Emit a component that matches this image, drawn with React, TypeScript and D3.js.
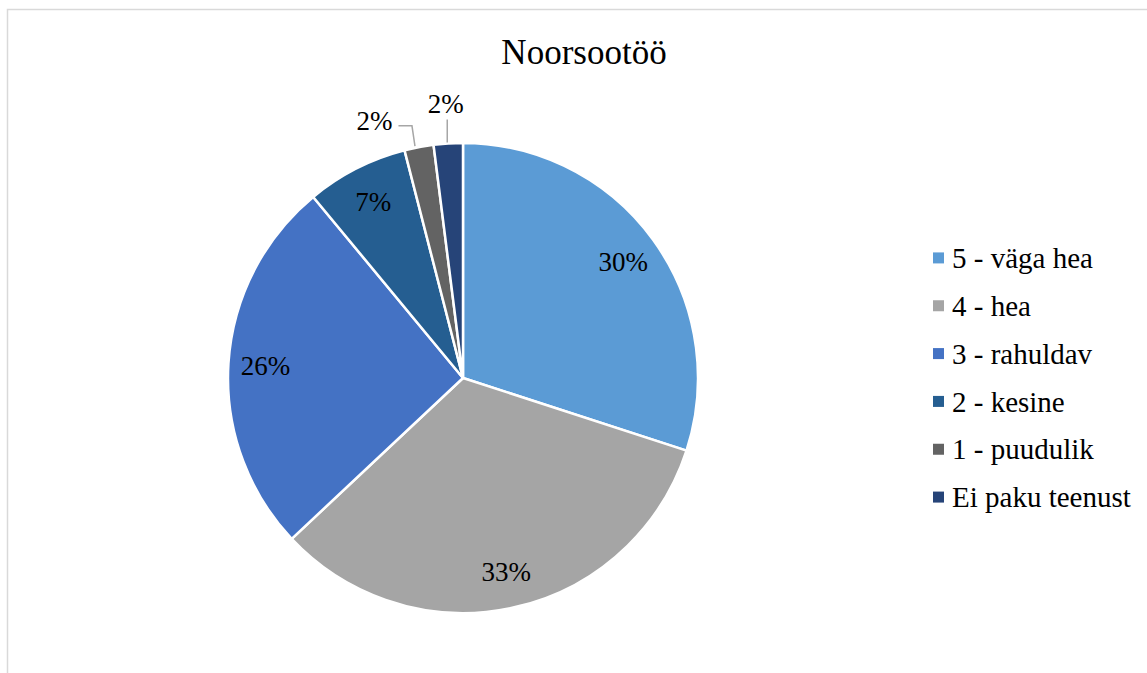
import React from "react";
import * as d3 from "d3";

const categories = ["5 - väga hea", "4 - hea", "3 - rahuldav", "2 - kesine", "1 - puudulik", "Ei paku teenust"];
const values = [30, 33, 26, 7, 2, 2];
const colors = ["#5B9BD5", "#A5A5A5", "#4472C4", "#255E91", "#636363", "#264478"];
const title = "Noorsootöö";

const W = 1147;
const H = 673;
const cx = 463;
const cy = 378;
const R = 235;
const FONT = "'Liberation Serif', 'Times New Roman', serif";

export default function App() {
  const pie = d3.pie<number>().value((d) => d).sort(null);
  const arcs = pie(values);
  const arc = d3.arc<d3.PieArcDatum<number>>().innerRadius(0).outerRadius(R);
  const labelArc = d3.arc<d3.PieArcDatum<number>>().innerRadius(198).outerRadius(198);
  const outerArc = d3.arc<d3.PieArcDatum<number>>().innerRadius(275).outerRadius(275);
  const edgeArc = d3.arc<d3.PieArcDatum<number>>().innerRadius(R).outerRadius(R);

  const legendY = d3.scaleBand<string>().domain(categories).range([234, 521]);

  return (
    <svg width={W} height={H} style={{ position: "absolute", left: 0, top: 0, background: "#fff" }} fontFamily={FONT}>
      <rect x={7.5} y={9.5} width={W + 10} height={H + 10} fill="#fff" stroke="#D9D9D9" strokeWidth={1.5} />
      <text x={584} y={64} textAnchor="middle" fontSize={35} fill="#000">{title}</text>
      <g transform={`translate(${cx},${cy})`}>
        {arcs.map((a, i) => (
          <path key={i} d={arc(a) || ""} fill={colors[i]} stroke="#fff" strokeWidth={2.5} strokeLinejoin="round" />
        ))}
        {arcs.map((a, i) => {
          const label = `${values[i]}%`;
          if (values[i] >= 5) {
            const [x, y] = labelArc.centroid(a);
            return (
              <text key={"l" + i} x={x} y={y} dy="0.35em" textAnchor="middle" fontSize={27} fill="#000">{label}</text>
            );
          }
          const [ex, ey] = edgeArc.centroid(a);
          const [ox, oy] = outerArc.centroid(a);
          const shifted = i === 4;
          const lx = shifted ? ox - 37 : ox;
          const ly = shifted ? oy + 13 : oy;
          const path = shifted
            ? `M${ex - 4},${ey - 1} L${ex - 7},${ly + 5} L${lx + 24},${ly + 5}`
            : `M${ex - 1},${ey - 1} L${ex - 1},${ly + 16}`;
          return (
            <g key={"l" + i}>
              <path d={path} fill="none" stroke="#A6A6A6" strokeWidth={1.5} />
              <text x={lx} y={ly} dy="0.35em" textAnchor="middle" fontSize={27} fill="#000">{label}</text>
            </g>
          );
        })}
      </g>
      {categories.map((c, i) => {
        const y = (legendY(c) || 0) + legendY.bandwidth() / 2;
        return (
          <g key={"lg" + i}>
            <rect x={933} y={y - 5.5} width={11} height={11} fill={colors[i]} />
            <text x={952} y={y} dy="0.35em" fontSize={29} fill="#000">{c}</text>
          </g>
        );
      })}
    </svg>
  );
}
